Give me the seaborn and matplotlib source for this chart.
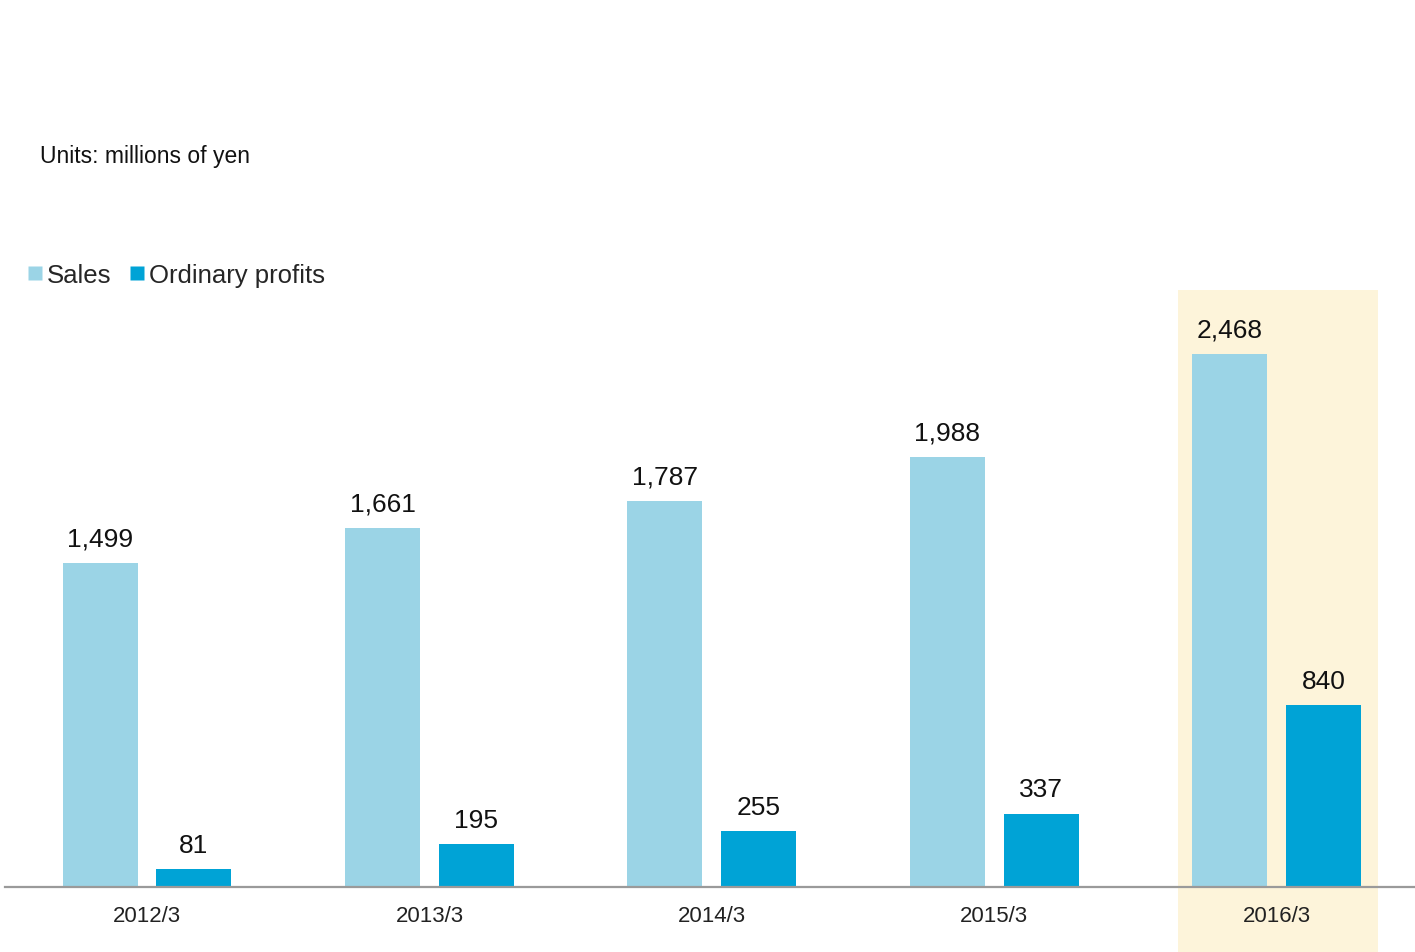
import matplotlib
matplotlib.use("Agg")
import matplotlib.pyplot as plt
from matplotlib.patches import Rectangle
from matplotlib.lines import Line2D
import seaborn as sns
import pandas as pd

# Fiscal years and results (millions of yen)
years = ["2012/3", "2013/3", "2014/3", "2015/3", "2016/3"]
sales = [1499, 1661, 1787, 1988, 2468]
ordinary_profits = [81, 195, 255, 337, 840]
series_names = ["Sales", "Ordinary profits"]
colors = ["#9bd4e6", "#00a3d6"]
highlight_year = "2016/3"

sns.set_style("white")
plt.rcParams["font.family"] = ["Liberation Sans", "DejaVu Sans"]

df = pd.DataFrame({
    "year": years * 2,
    "value": sales + ordinary_profits,
    "series": [series_names[0]] * len(years) + [series_names[1]] * len(years),
})

fig = plt.figure(figsize=(14.15, 9.53), dpi=100)
ax = fig.add_axes([5 / 1415, 1 - 887.5 / 953, 1 - 5 / 1415, (887.5 - 291) / 953])

sns.barplot(data=df, x="year", y="value", hue="series", order=years,
            hue_order=series_names, palette=colors, width=0.664, gap=0.2,
            saturation=1, legend=False, ax=ax, zorder=2, linewidth=0)

ymax = 2764
ax.set_ylim(0, ymax)
ax.set_xlim(-0.503, 4.49)

# Highlight band behind the latest fiscal year
hi = years.index(highlight_year)
ax.add_patch(Rectangle((hi - 0.35, -310), 0.71, ymax + 310, facecolor="#fdf4da",
                       edgecolor="none", zorder=0, clip_on=False))

for cont in ax.containers:
    ax.bar_label(cont, labels=[f"{v:,.0f}" for v in cont.datavalues],
                 padding=9, fontsize=19, color="#111111")

for s in ["top", "right", "left"]:
    ax.spines[s].set_visible(False)
ax.spines["bottom"].set_color("#9a9a9a")
ax.spines["bottom"].set_linewidth(1.6)
ax.spines["bottom"].set_zorder(3)
ax.set_yticks([])
ax.set_xlabel("")
ax.set_ylabel("")
ax.tick_params(axis="x", length=0, pad=13.5, labelsize=16, labelcolor="#222222")
ax.patch.set_alpha(0)

handles = [Line2D([], [], marker="s", linestyle="none", markersize=10,
                  markerfacecolor=c, markeredgecolor="none") for c in colors]
fig.legend(handles, series_names, loc="center left",
           bbox_to_anchor=(15 / 1415, 1 - 276 / 953), ncol=2, frameon=False,
           fontsize=18.5, handlelength=0.55, handletextpad=0.2, columnspacing=0.7,
           borderpad=0)

fig.text(40 / 1415, 1 - 156 / 953, "Units: millions of yen", fontsize=16.5,
         va="center", ha="left", color="#111111")

fig.savefig("out.png", dpi=100)
